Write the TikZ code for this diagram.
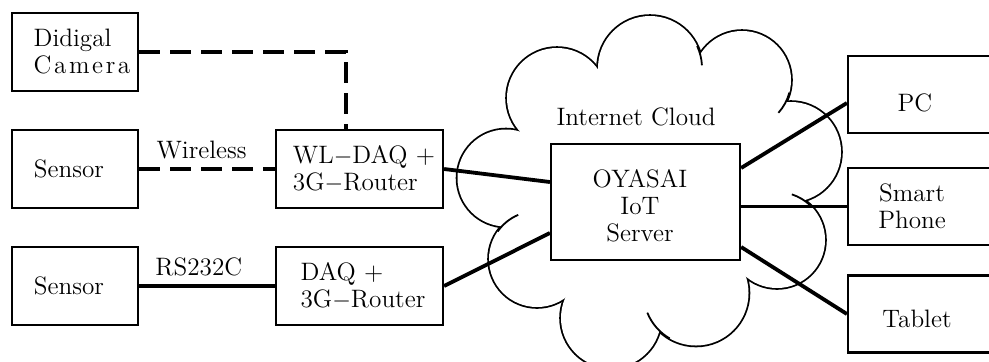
\documentclass[tikz,border=0pt]{standalone}
\usepackage{fontspec}
\setmainfont{Latin Modern Roman}
\begin{document}
\begin{tikzpicture}[x=0.5pt, y=-0.5pt,
  every node/.style={font=\fontsize{12.6}{13.5}\selectfont, text=black},
  box/.style={draw, line width=1.1pt, minimum width=63pt, minimum height=39pt, inner sep=0pt},
  hub/.style={box, minimum width=83.5pt},
  server/.style={box, minimum width=94.5pt, minimum height=58pt},
  device/.style={box, minimum width=81pt, minimum height=38.5pt},
  wire/.style={line width=1.9pt},
  radio/.style={wire, dash pattern=on 10.5pt off 5pt},
  cloudline/.style={line width=1.8pt},
  cloudhook/.style={line width=0.9pt},
  lbl/.style={above, inner sep=4pt}
]
\useasboundingbox (0,0) rectangle (989,361);

% Internet cloud: outline of a union of discs
\foreach \cx/\cy/\r in {506/178/48.5, 557/98/50, 650/68/52, 742/80/49, 791/152/50,
                        777/240/48, 696/293/52.5, 611/318/50, 537/259/48}
  \draw[cloudline] (\cx,\cy) circle[radius=\r];
\foreach \cx/\cy/\r in {506/178/48.5, 557/98/50, 650/68/52, 742/80/49, 791/152/50,
                        777/240/48, 696/293/52.5, 611/318/50, 537/259/48}
  \fill[white] (\cx,\cy) circle[radius=\r];
\fill[white] (506,178) -- (557,98) -- (650,68) -- (742,80) -- (791,152)
  -- (777,240) -- (696,293) -- (611,318) -- (537,259) -- cycle;
% small inner hooks where the puffs meet
\draw[cloudhook] (650,68) ++(-25:52) arc[start angle=-25, end angle=-3, radius=52];
\draw[cloudhook] (742,80) ++(15:49) arc[start angle=15, end angle=42, radius=49];
\draw[cloudhook] (777,240) ++(-45:48) arc[start angle=-45, end angle=-72, radius=48];
\draw[cloudhook] (696,293) ++(120:52.5) arc[start angle=120, end angle=158, radius=52.5];
\draw[cloudhook] (537,259) ++(215:48) arc[start angle=215, end angle=247, radius=48];

% field side
\node[box, label={[xshift=3.5pt, align=left]center:Didigal\\C\kern1.3pt a\kern1.3pt m\kern1.3pt e\kern1.3pt r\kern1.3pt a}] (cam) at (75,52) {};
\node[box, label={[xshift=-3pt]center:Sensor}] (s1) at (75,169) {};
\node[box, label={[xshift=-3pt]center:Sensor}] (s2) at (75,286) {};
\node[hub, label={[xshift=2.25pt, align=left]center:WL$-$DAQ +\\3G$-$Router}] (wl) at (359.5,169) {};
\node[hub, label={[xshift=1.75pt, align=left]center:DAQ +\\3G$-$Router}] (daq) at (359.5,286) {};

% cloud side
\node (cl) at (636,116.5) {Internet Cloud};
\node[server, label={[xshift=-2.75pt, yshift=-2pt, align=center]center:OYASAI\\IoT\\Server}] (srv) at (645.5,202) {};

% user side
\node[device, label={[xshift=-7pt, yshift=-4pt]center:PC}] (pc) at (929,94.5) {};
\node[device, label={[xshift=-8.5pt, align=center]center:Smart\\Phone}] (sp) at (929,206.5) {};
\node[device, label={[xshift=-6pt, yshift=-2.25pt]center:Tablet}] (tab) at (929,314) {};

% connections
\draw[radio] (cam.east) -| ([xshift=-6.75pt]wl.north);
\draw[radio] (s1.east) -- node[lbl, pos=0.46] {Wireless} (wl.west);
\draw[wire] (s2.east) -- node[lbl, pos=0.44] {RS232C} (daq.west);
\draw[wire] (wl.east) -- ([yshift=10pt]srv.west);
\draw[wire] (daq.east) -- ([yshift=-15.5pt]srv.west);
\draw[wire] ([yshift=17pt]srv.east) -- ([yshift=-4.25pt]pc.west);
\draw[wire] (srv.east |- sp.west) -- (sp.west);
\draw[wire] ([yshift=-22.5pt]srv.east) -- (tab.west);
\end{tikzpicture}
\end{document}
